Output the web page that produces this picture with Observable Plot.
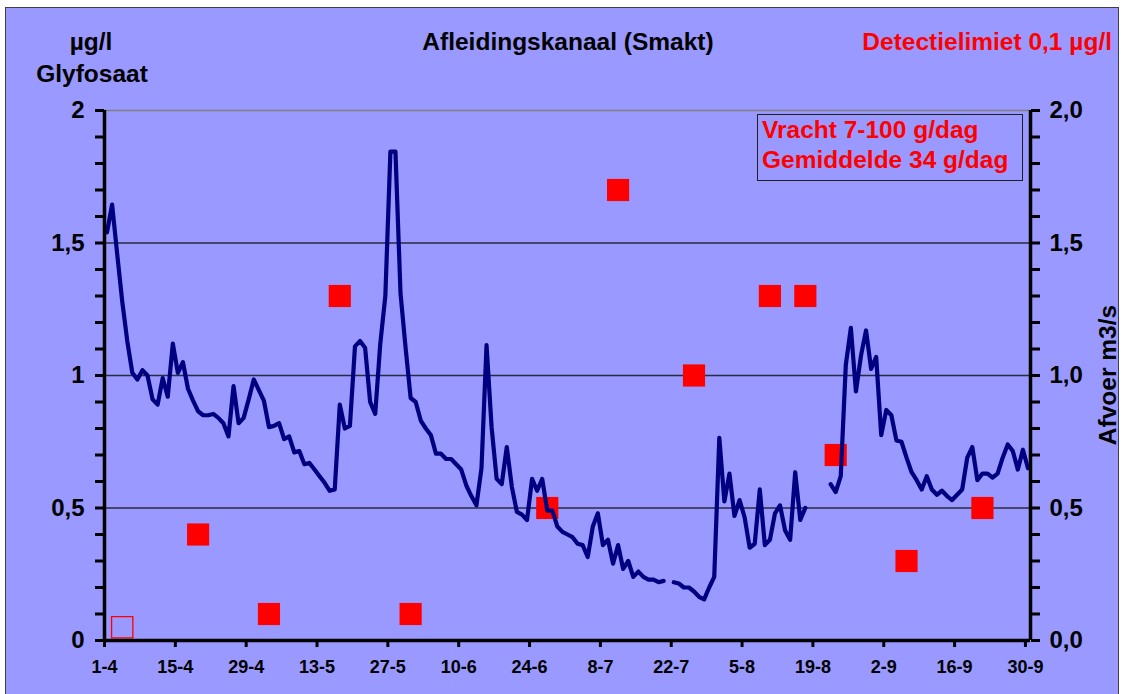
<!DOCTYPE html>
<html>
<head>
<meta charset="utf-8">
<script src="https://cdn.jsdelivr.net/npm/d3@7"></script>
<script src="https://cdn.jsdelivr.net/npm/@observablehq/plot@0.6"></script>
<style>
  html, body { margin:0; padding:0; background:#fff; width:1129px; height:694px; overflow:hidden; }
  body { position:relative; font-family:"Liberation Sans", Arial, sans-serif; font-weight:bold; }
  #frame { position:absolute; left:5px; top:7px; width:1112px; height:700px; background:#9999FF; border:1px solid #404040; }
  #chart { position:absolute; left:0; top:0; }
  .t { position:absolute; font-size:24.5px; line-height:24px; white-space:nowrap; color:#000; }
  .c { transform:translateX(-50%); }
  .red { color:#FF0000; }
  #legend { position:absolute; left:757px; top:114px; width:266px; height:67px; border:1px solid #202020; color:#FF0000; font-size:24.5px; line-height:30px; padding-left:4px; box-sizing:border-box; white-space:nowrap; }
  #ylab2 { position:absolute; left:1108px; top:375px; font-size:24.5px; line-height:24px; white-space:nowrap; transform:translate(-50%,-50%) rotate(-90deg); }
</style>
</head>
<body>
<div id="frame"></div>
<div id="chart"></div>
<div class="t c" style="left:91px; top:30px;">µg/l</div>
<div class="t c" style="left:92px; top:62px;">Glyfosaat</div>
<div class="t c" style="left:568px; top:30px;">Afleidingskanaal (Smakt)</div>
<div class="t red" style="right:17px; top:30px;">Detectielimiet 0,1 µg/l</div>
<div id="legend"><div>Vracht 7-100 g/dag</div><div>Gemiddelde 34 g/dag</div></div>
<div id="ylab2">Afvoer m3/s</div>
<script>
// ---- data ----
const year = 2001;
const startLabel = "1-4";
const endLabel = "1-10";
// daily discharge (m3/s) from 1-4 onwards; null = no data
const afvoer = [
  1.54, 1.645, 1.46, 1.28, 1.13, 1.01, 0.985, 1.02, 1.00, 0.91,
  0.89, 0.99, 0.92, 1.12, 1.01, 1.05, 0.95, 0.905, 0.865, 0.85,
  0.85, 0.855, 0.84, 0.82, 0.77, 0.96, 0.82, 0.84, 0.91, 0.985,
  0.945, 0.905, 0.805, 0.81, 0.82, 0.76, 0.77, 0.71, 0.715, 0.665,
  0.67, 0.645, 0.62, 0.595, 0.565, 0.57, 0.89, 0.80, 0.81, 1.11,
  1.13, 1.105, 0.90, 0.855, 1.12, 1.30, 1.845, 1.845, 1.31, 1.105,
  0.915, 0.90, 0.83, 0.80, 0.775, 0.705, 0.705, 0.685, 0.685, 0.665,
  0.645, 0.585, 0.545, 0.51, 0.65, 1.115, 0.805, 0.61, 0.59, 0.73,
  0.58, 0.485, 0.475, 0.455, 0.61, 0.565, 0.61, 0.49, 0.49, 0.43,
  0.41, 0.40, 0.39, 0.365, 0.36, 0.315, 0.43, 0.48, 0.36, 0.38,
  0.29, 0.36, 0.27, 0.30, 0.24, 0.26, 0.24, 0.23, 0.23, 0.22,
  0.225, null, 0.22, 0.215, 0.20, 0.20, 0.185, 0.165, 0.155, 0.20,
  0.24, 0.765, 0.525, 0.63, 0.47, 0.53, 0.465, 0.35, 0.365, 0.57,
  0.36, 0.38, 0.48, 0.51, 0.415, 0.38, 0.635, 0.455, 0.50, null,
  null, null, null, 0.59, 0.56, 0.62, 1.04, 1.18, 0.94, 1.075,
  1.17, 1.025, 1.07, 0.775, 0.87, 0.85, 0.755, 0.75, 0.69, 0.635,
  0.605, 0.57, 0.62, 0.57, 0.55, 0.565, 0.545, 0.53, 0.55, 0.57,
  0.69, 0.73, 0.605, 0.63, 0.63, 0.615, 0.63, 0.69, 0.74, 0.715,
  0.645, 0.72, 0.65
];
// glyfosaat measurements (µg/l)
const sampleDates = ["19-4","3-5","17-5","31-5","27-6","11-7","26-7","10-8","17-8","23-8","6-9","21-9"];
const sampleValues = [0.4, 0.1, 1.3, 0.1, 0.5, 1.7, 1.0, 1.3, 1.3, 0.7, 0.3, 0.5];
// below detection limit
const belowDates = ["4-4"];
const belowValues = [0.05];
// tick labels
const xTickLabels = ["1-4","15-4","29-4","13-5","27-5","10-6","24-6","8-7","22-7","5-8","19-8","2-9","16-9","30-9"];
const yMajor = [0, 0.5, 1, 1.5, 2];
const yLeftLabels = ["0", "0,5", "1", "1,5", "2"];
const yRightLabels = ["0,0", "0,5", "1,0", "1,5", "2,0"];
const yMinor = d3.range(0, 21).map(i => i / 10);
const gridLevels = [0.5, 1, 1.5];
const topGrid = [2];

// ---- build ----
const parseDM = (s, h = 0) => { const [d, m] = s.split("-").map(Number); return new Date(Date.UTC(year, m - 1, d, h)); };
const start = parseDM(startLabel);
const end = parseDM(endLabel);
const flow = afvoer.map((v, i) => ({ date: new Date(Date.UTC(year, 3, 1 + i, 12)), value: v }));
const samples = sampleDates.map((s, i) => ({ date: parseDM(s, 12), value: sampleValues[i] }));
const below = belowDates.map((s, i) => ({ date: parseDM(s, 12), value: belowValues[i] }));
const xTicks = xTickLabels.map(s => parseDM(s));

const chart = Plot.plot({
  width: 1129,
  height: 694,
  marginTop: 110,
  marginBottom: 54,
  marginLeft: 104,
  marginRight: 99,
  style: { background: "transparent", fontFamily: "'Liberation Sans', Arial, sans-serif", fontWeight: "bold", color: "#000", overflow: "visible" },
  x: { type: "utc", domain: [start, end] },
  y: { domain: [0, 2] },
  marks: [
    Plot.ruleY(gridLevels, { stroke: "#2a2a40", strokeWidth: 1.3 }),
    Plot.ruleY(topGrid, { stroke: "#808080", strokeWidth: 1.3 }),
    Plot.dot(samples, { x: "date", y: "value", symbol: "square", r: 12.5, fill: "#FF0000", stroke: "none" }),
    Plot.dot(below, { x: "date", y: "value", symbol: "square", r: 12, fill: "none", stroke: "#FF0000", strokeWidth: 1.3 }),
    Plot.line(flow, { x: "date", y: "value", stroke: "#000080", strokeWidth: 4.2, strokeLinejoin: "round", strokeLinecap: "round" }),
    Plot.axisY(yMinor, { anchor: "left", tickSize: 9, strokeWidth: 3, tickFormat: () => "", label: null }),
    Plot.axisY(yMajor, { anchor: "left", tickSize: 0, tickPadding: 20, tickFormat: (d, i) => yLeftLabels[i], fontSize: 24, label: null }),
    Plot.axisY(yMinor, { anchor: "right", tickSize: 9, strokeWidth: 3, tickFormat: () => "", label: null }),
    Plot.axisY(yMajor, { anchor: "right", tickSize: 0, tickPadding: 19, tickFormat: (d, i) => yRightLabels[i], fontSize: 24, label: null }),
    Plot.axisX(xTicks, { anchor: "bottom", tickSize: 7, strokeWidth: 3, tickPadding: 13, tickFormat: (d, i) => xTickLabels[i], fontSize: 18, label: null }),
    Plot.ruleX([start, end], { stroke: "#000", strokeWidth: 3.5 }),
    Plot.ruleY([0], { stroke: "#000", strokeWidth: 3.5 })
  ]
});
document.getElementById("chart").appendChild(chart);
</script>
</body>
</html>
